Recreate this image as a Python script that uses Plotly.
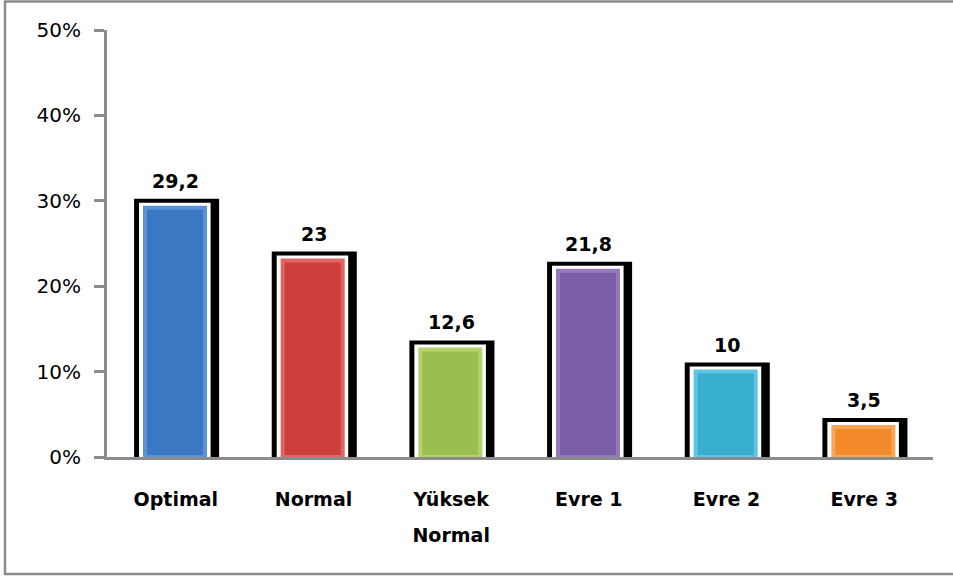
import plotly.graph_objects as go

# ---- data ----
categories = ["Optimal", "Normal", "Yüksek Normal", "Evre 1", "Evre 2", "Evre 3"]
category_labels = ["Optimal", "Normal", "Yüksek<br>Normal", "Evre 1", "Evre 2", "Evre 3"]
values = [29.2, 23, 12.6, 21.8, 10, 3.5]
value_labels = ["29,2", "23", "12,6", "21,8", "10", "3,5"]
y_tick_values = [0, 10, 20, 30, 40, 50]
y_tick_labels = ["0%", "10%", "20%", "30%", "40%", "50%"]

# ---- styles ----
bar_colors = ["#3B78C4", "#CC3F3C", "#9BBE4E", "#7C5CA6", "#37ADCF", "#F28A2C"]
bevel_colors = ["#5A93D8", "#E06563", "#B3D36C", "#9679BC", "#5EC6E2", "#F9A656"]
FONT = "DejaVu Sans"
W, H = 953, 576
L, R, T, B = 107, 20, 30, 119
PW, PH = W - L - R, H - T - B

def px_x(p):
    return (p - L) / PW

def px_y(p):
    return (H - B - p) / PH

fig = go.Figure()

# black outline / shadow
fig.add_trace(go.Bar(
    x=categories, y=values, width=0.487, offset=-0.238,
    marker=dict(color="black", line=dict(color="black", width=18)),
    hoverinfo="skip", showlegend=False,
))
# white border
fig.add_trace(go.Bar(
    x=categories, y=values, width=0.447, offset=-0.231,
    marker=dict(color="white", line=dict(color="white", width=10)),
    hoverinfo="skip", showlegend=False,
))
# coloured bar
fig.add_trace(go.Bar(
    x=categories, y=values, width=0.436, offset=-0.224,
    marker=dict(color=bar_colors, line=dict(color=bevel_colors, width=4)),
    showlegend=False,
))

annotations = []
for c, v, t in zip(categories, values, value_labels):
    annotations.append(dict(
        x=c, y=v, xref="x", yref="y", text=t, showarrow=False,
        yanchor="bottom", yshift=14,
        font=dict(family=FONT, size=19, color="black", weight="bold"),
    ))

tick_text = ["<b><span style='font-size:19px'>" + s.replace("<br>", "</span></b><br><b><span style='font-size:19px'>") + "</span></b>"
             for s in category_labels]

fig.update_layout(
    width=W, height=H,
    margin=dict(l=L, r=R, t=T, b=B, pad=0),
    paper_bgcolor="white", plot_bgcolor="white",
    barmode="overlay",
    font=dict(family=FONT, color="black"),
    annotations=annotations,
    xaxis=dict(
        type="category", categoryorder="array", categoryarray=categories,
        tickmode="array", tickvals=categories, ticktext=tick_text,
        tickfont=dict(family=FONT, size=27, color="black"),
        showline=True, linecolor="#8C8C8C", linewidth=3,
        ticks="", showgrid=False, zeroline=False,
        range=[-0.5, 5.5], ticklabelstandoff=14,
    ),
    yaxis=dict(
        range=[0, 50], tickmode="array", tickvals=y_tick_values, ticktext=y_tick_labels,
        tickfont=dict(family=FONT, size=20, color="black"),
        showline=True, linecolor="#8C8C8C", linewidth=3,
        ticks="outside", ticklen=10, tickwidth=3, tickcolor="#8C8C8C",
        showgrid=False, zeroline=False, ticklabelstandoff=9,
    ),
    shapes=[dict(
        type="rect", xref="paper", yref="paper",
        x0=px_x(5), x1=px_x(956), y0=px_y(574), y1=px_y(1.5),
        line=dict(color="#8C8C8C", width=2.5), fillcolor="rgba(0,0,0,0)",
        layer="below",
    )],
)

fig.write_html(
    "out.html",
    config={"displayModeBar": False},
    post_script="document.body.style.margin='0';document.body.style.overflow='hidden';",
)
